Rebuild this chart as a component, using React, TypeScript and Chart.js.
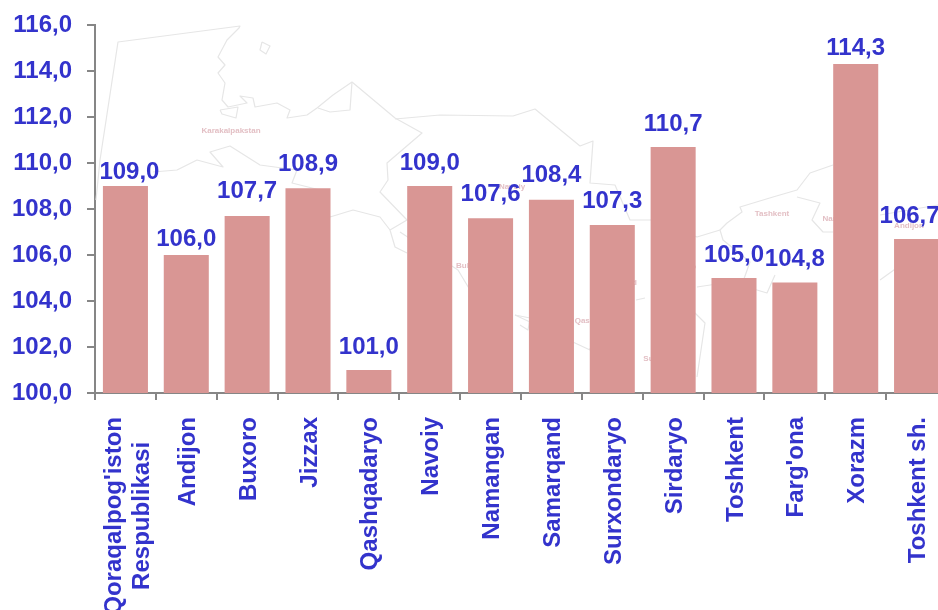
import React, { useEffect, useRef } from "react";
import { Chart, registerables } from "chart.js";

Chart.register(...registerables);

const categories: (string | string[])[] = [
  ["Qoraqalpog'iston", "Respublikasi"],
  "Andijon", "Buxoro", "Jizzax", "Qashqadaryo", "Navoiy", "Namangan",
  "Samarqand", "Surxondaryo", "Sirdaryo", "Toshkent", "Farg'ona", "Xorazm", "Toshkent sh.",
];
const values = [109.0, 106.0, 107.7, 108.9, 101.0, 109.0, 107.6, 108.4, 107.3, 110.7, 105.0, 104.8, 114.3, 106.7];

// hand-placed label nudges in the original: [dx, gap above the bar]
const labelDx = [4, 0, 0, 0, 0, 0, 0, 0, 0, 0, 0, 0, 0, -7];
const labelGap = [7, 9, 18, 17, 16, 16, 17, 18, 17, 16, 16, 17, 9, 16];

// faint background map of Uzbekistan
const mapLines: number[][][] = [
  [[96, 200], [100, 160], [118, 42], [240, 26], [239, 28], [227, 40], [218, 57], [225, 65], [218, 73], [225, 83], [222, 100], [228, 107], [247, 103], [240, 96], [253, 98], [255, 107], [277, 103], [290, 110], [287, 118], [307, 115], [317, 108], [333, 95], [352, 82], [395, 118], [422, 133], [387, 163], [388, 180], [380, 192], [407, 220], [390, 230], [395, 247], [407, 253]],
  [[395, 119], [440, 115], [513, 116], [535, 109], [580, 146], [593, 141], [590, 183], [615, 185], [630, 220], [653, 220], [697, 237], [720, 230]],
  [[153, 172], [177, 170], [197, 160], [223, 167], [210, 152], [230, 146], [260, 165], [297, 170], [292, 183], [320, 190], [330, 217], [353, 210], [380, 217], [390, 230]],
  [[833, 165], [810, 173], [797, 190], [773, 197], [740, 207], [742, 212], [727, 223], [720, 230], [723, 240], [750, 262], [740, 290]],
  [[797, 197], [820, 203], [812, 220], [823, 232], [833, 232]],
  [[697, 287], [730, 282], [767, 293], [775, 275]],
  [[695, 313], [705, 323], [697, 377]],
  [[880, 215], [938, 205]],
  [[880, 280], [905, 262], [938, 250]],
  [[400, 232], [458, 270], [470, 290]],
  [[515, 315], [530, 318], [528, 330], [520, 325]],
  [[515, 315], [590, 350], [590, 348]],
  [[636, 300], [645, 298]],
  [[318, 108], [330, 112], [350, 110], [352, 82]],
  [[220, 110], [238, 107], [236, 118], [222, 114], [220, 110]],
  [[262, 42], [270, 46], [266, 54], [260, 50], [262, 42]],
];
const mapNames: [string, number, number][] = [
  ["Karakalpakstan", 231, 131],
  ["Tashkent", 772, 214],
  ["Andijon", 909, 226],
  ["Namangan", 843, 219],
  ["Navoiy", 512, 187],
  ["Bukhara", 472, 266],
  ["Qashqadarya", 600, 321],
  ["Surxondaryo", 668, 359],
  ["Samarqand", 615, 283],
  ["Sirdaryo", 680, 267],
];

const BLUE = "#3333CC";
const AXIS = "#868686";
const FONT = '"Liberation Sans", Arial, sans-serif';
const SIZE = 24;
const fmt = (v: number) => v.toFixed(1).replace(".", ",");

const backdrop = {
  id: "backdrop",
  beforeDatasetsDraw(chart: any) {
    const { ctx } = chart;
    ctx.save();
    ctx.strokeStyle = "#E6E6E6";
    ctx.lineWidth = 1.2;
    ctx.lineJoin = "round";
    mapLines.forEach((line) => {
      ctx.beginPath();
      line.forEach(([x, y], i) => (i ? ctx.lineTo(x, y) : ctx.moveTo(x, y)));
      ctx.stroke();
    });
    ctx.fillStyle = "#E3BFC4";
    ctx.font = `bold 8px ${FONT}`;
    ctx.textAlign = "center";
    ctx.textBaseline = "middle";
    mapNames.forEach(([t, x, y]) => ctx.fillText(t, x, y));
    ctx.restore();
  },
};

const centerLabels = {
  id: "centerLabels",
  beforeDraw(chart: any) {
    const scale = chart.scales.x;
    const { ctx } = chart;
    ctx.save();
    ctx.font = `bold ${SIZE}px ${FONT}`;
    scale.getLabelItems().forEach((item: any) => {
      if (item.__moved) return;
      item.__moved = true;
      const t = item.options.translation;
      if (Array.isArray(item.label)) {
        t[0] -= 11;
        t[1] += ctx.measureText(item.label[0]).width / 2;
        item.options.textAlign = "center";
      } else {
        t[0] += 2;
      }
    });
    ctx.restore();
  },
};

const valueLabels = {
  id: "valueLabels",
  afterDatasetsDraw(chart: any) {
    const { ctx } = chart;
    const meta = chart.getDatasetMeta(0);
    ctx.save();
    ctx.fillStyle = BLUE;
    ctx.font = `bold ${SIZE}px ${FONT}`;
    ctx.textAlign = "center";
    ctx.textBaseline = "alphabetic";
    meta.data.forEach((bar: any, i: number) => {
      ctx.fillText(fmt(values[i]), bar.x + labelDx[i], bar.y - labelGap[i]);
    });
    ctx.restore();
  },
};

export default function App() {
  const ref = useRef<HTMLCanvasElement>(null);
  useEffect(() => {
    document.body.style.margin = "0";
    document.body.style.overflow = "hidden";
    const chart = new Chart(ref.current!, {
      type: "bar",
      data: {
        labels: categories as any,
        datasets: [{
          data: values,
          backgroundColor: "#D99694",
          barPercentage: 0.74,
          categoryPercentage: 1,
        }],
      },
      plugins: [centerLabels, backdrop, valueLabels],
      options: {
        animation: false,
        responsive: false,
        layout: { padding: { top: 25, right: 13, left: 0, bottom: 0 } },
        plugins: { legend: { display: false }, tooltip: { enabled: false } },
        scales: {
          x: {
            afterFit(s: any) { s.height = 217; s.paddingLeft = 0; s.paddingRight = 0; },
            border: { color: AXIS, width: 2 },
            grid: { display: true, drawOnChartArea: false, color: AXIS, lineWidth: 2, tickLength: 7 },
            ticks: {
              autoSkip: false, minRotation: 90, maxRotation: 90, color: BLUE, padding: 17,
              font: { family: FONT, size: SIZE, weight: "bold", lineHeight: 1.17 },
            },
          },
          y: {
            min: 100, max: 116,
            afterFit(s: any) { s.width = 95; s.paddingTop = 0; s.paddingBottom = 0; },
            border: { color: AXIS, width: 2 },
            grid: { display: true, drawOnChartArea: false, color: AXIS, lineWidth: 2, tickLength: 8 },
            ticks: {
              stepSize: 2, color: BLUE, padding: 15,
              font: { family: FONT, size: SIZE, weight: "bold" },
              callback: (v: any) => fmt(Number(v)),
            },
          },
        },
      },
    } as any);
    return () => chart.destroy();
  }, []);
  return (
    <div style={{ width: 938, height: 610, overflow: "hidden", position: "relative" }}>
      <canvas ref={ref} width={960} height={610} style={{ position: "absolute", left: 0, top: 0, width: 960, height: 610 }} />
    </div>
  );
}
